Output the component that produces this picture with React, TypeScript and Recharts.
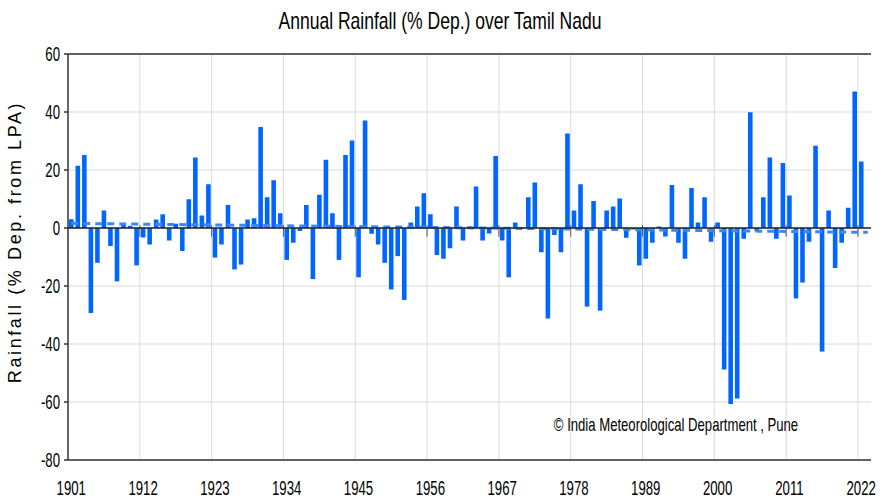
import React from 'react';
import { ComposedChart, Bar, Line, XAxis, YAxis, CartesianGrid, ReferenceLine } from 'recharts';

const years: number[] = [
  1901, 1902, 1903, 1904, 1905, 1906, 1907, 1908, 1909, 1910,
  1911, 1912, 1913, 1914, 1915, 1916, 1917, 1918, 1919, 1920,
  1921, 1922, 1923, 1924, 1925, 1926, 1927, 1928, 1929, 1930,
  1931, 1932, 1933, 1934, 1935, 1936, 1937, 1938, 1939, 1940,
  1941, 1942, 1943, 1944, 1945, 1946, 1947, 1948, 1949, 1950,
  1951, 1952, 1953, 1954, 1955, 1956, 1957, 1958, 1959, 1960,
  1961, 1962, 1963, 1964, 1965, 1966, 1967, 1968, 1969, 1970,
  1971, 1972, 1973, 1974, 1975, 1976, 1977, 1978, 1979, 1980,
  1981, 1982, 1983, 1984, 1985, 1986, 1987, 1988, 1989, 1990,
  1991, 1992, 1993, 1994, 1995, 1996, 1997, 1998, 1999, 2000,
  2001, 2002, 2003, 2004, 2005, 2006, 2007, 2008, 2009, 2010,
  2011, 2012, 2013, 2014, 2015, 2016, 2017, 2018, 2019, 2020,
  2021, 2022, 2023,
];

const rainfallDep: (number | null)[] = [
  3, 21.5, 25.2, -29.3, -12, 6, -6.2, -18.4, 1.5, 0.8,
  -12.9, -3.3, -5.7, 2.9, 4.7, -4.3, 1.5, -7.9, 9.9, 24.3,
  4.3, 15.1, -10.2, -5.7, 7.9, -14.3, -12.6, 2.9, 3.4, 34.8,
  10.6, 16.5, 5.1, -11, -5.1, -1, 7.9, -17.6, 11.5, 23.5,
  5.1, -11, 25.2, 30.2, -17, 37.1, -2, -5.7, -12, -21.2,
  -9.7, -24.8, 1.9, 7.4, 12, 4.7, -9.3, -10.6, -7, 7.4,
  -4.3, 0.5, 14.3, -4.3, -1.9, 24.8, -4.3, -17, 1.9, 0.3,
  10.6, 15.7, -8.4, -31.2, -2.4, -8.4, 32.6, 6, 15.1, -27.1,
  9.3, -28.5, 6, 7.4, 10.2, -3.4, -0.5, -12.9, -10.6, -5.1,
  0.5, -2.9, 14.8, -5.1, -10.6, 13.8, 1.9, 10.6, -4.7, 1.9,
  -48.8, -60.7, -58.8, -3.7, 39.9, -1, 10.6, 24.3, -3.7, 22.4,
  11.2, -24.3, -18.8, -4.7, 28.4, -42.6, 6, -13.8, -5.1, 7,
  47.1, 22.9, null,
];

// linear trend end points (% dep.)
const trendStartValue = 1.6;
const trendEndValue = -1.5;

const gridYears: number[] = [1912, 1923, 1934, 1945, 1956, 1967, 1978, 1989, 2000, 2011, 2022];
const yTicks: number[] = [-80, -60, -40, -20, 0, 20, 40, 60];

const data = years.map((year, i) => ({
  year,
  value: rainfallDep[i],
  trend: i === 0 ? trendStartValue : i === years.length - 1 ? trendEndValue : null,
}));

const FONT = '"Liberation Sans", Arial, sans-serif';

const XTick = (props: any) => {
  const { x, y, payload } = props;
  const ty = y + 27;
  return (
    <text
      x={x}
      y={ty}
      textAnchor="middle"
      fontSize={20}
      fontFamily={FONT}
      fill="#000"
      transform={`translate(${x},0) scale(0.66,1) translate(${-x},0)`}
    >
      {payload.value}
    </text>
  );
};

const YTick = (props: any) => {
  const { x, y, payload } = props;
  return (
    <text
      x={x - 2}
      y={y + 7}
      textAnchor="end"
      fontSize={20}
      fontFamily={FONT}
      fill="#000"
      transform={`translate(${x - 2},0) scale(0.66,1) translate(${-(x - 2)},0)`}
    >
      {payload.value}
    </text>
  );
};

export default function App() {
  return (
    <div style={{ position: 'absolute', left: 0, top: 0, width: 885, height: 501, background: '#fff', fontFamily: FONT }}>
      <div
        style={{
          position: 'absolute', left: 440, top: 21, whiteSpace: 'nowrap', fontSize: 24, lineHeight: '24px',
          color: '#000', transform: 'translate(-50%,-50%) scaleX(0.73)',
        }}
      >
        Annual Rainfall (% Dep.) over Tamil Nadu
      </div>
      <div
        style={{
          position: 'absolute', left: 15, top: 242, whiteSpace: 'nowrap', fontSize: 18, lineHeight: '18px',
          letterSpacing: 2.6, color: '#000', transform: 'translate(-50%,-50%) rotate(-90deg)',
        }}
      >
        Rainfall (% Dep. from LPA)
      </div>
      <ComposedChart width={885} height={501} data={data} margin={{ top: 54, right: 14, bottom: 11, left: 28 }}>
        <CartesianGrid vertical={false} stroke="#d9d9d9" />
        {gridYears.map((yr) => (
          <ReferenceLine key={`g${yr}`} x={yr} position="start" stroke="#dcdcdc" />
        ))}
        <XAxis
          dataKey="year"
          type="category"
          interval={10}
          tickLine={false}
          axisLine={{ stroke: '#333', strokeWidth: 1.5 }}
          height={30}
          tick={<XTick />}
        />
        <YAxis
          domain={[-80, 60]}
          ticks={yTicks}
          type="number"
          width={40}
          tickSize={4}
          allowDataOverflow
          axisLine={{ stroke: '#333', strokeWidth: 1.5 }}
          tickLine={{ stroke: '#333', strokeWidth: 1.5 }}
          tick={<YTick />}
        />
        <YAxis yAxisId="r" orientation="right" width={0} tick={false} tickLine={false} axisLine={{ stroke: '#333', strokeWidth: 1.5 }} />
        <ReferenceLine y={60} stroke="#333" strokeWidth={1.5} />
        {gridYears.map((yr) => (
          <ReferenceLine key={`t${yr}`} position="start" segment={[{ x: yr, y: 1 }, { x: yr, y: -3 }]} stroke="#555" />
        ))}
        <Line
          dataKey="trend"
          connectNulls
          stroke="#3a86ff"
          strokeWidth={3}
          strokeDasharray="7 5"
          dot={false}
          activeDot={false}
          isAnimationActive={false}
        />
        <Bar dataKey="value" fill="#0066ff" barSize={4.6} isAnimationActive={false} />
        <ReferenceLine y={0} stroke="#222" strokeWidth={1.5} />
      </ComposedChart>
      <div
        style={{
          position: 'absolute', left: 676, top: 424, whiteSpace: 'nowrap', fontSize: 19, lineHeight: '19px',
          color: '#000', transform: 'translate(-50%,-50%) scaleX(0.69)',
        }}
      >
        © India Meteorological Department , Pune
      </div>
    </div>
  );
}
